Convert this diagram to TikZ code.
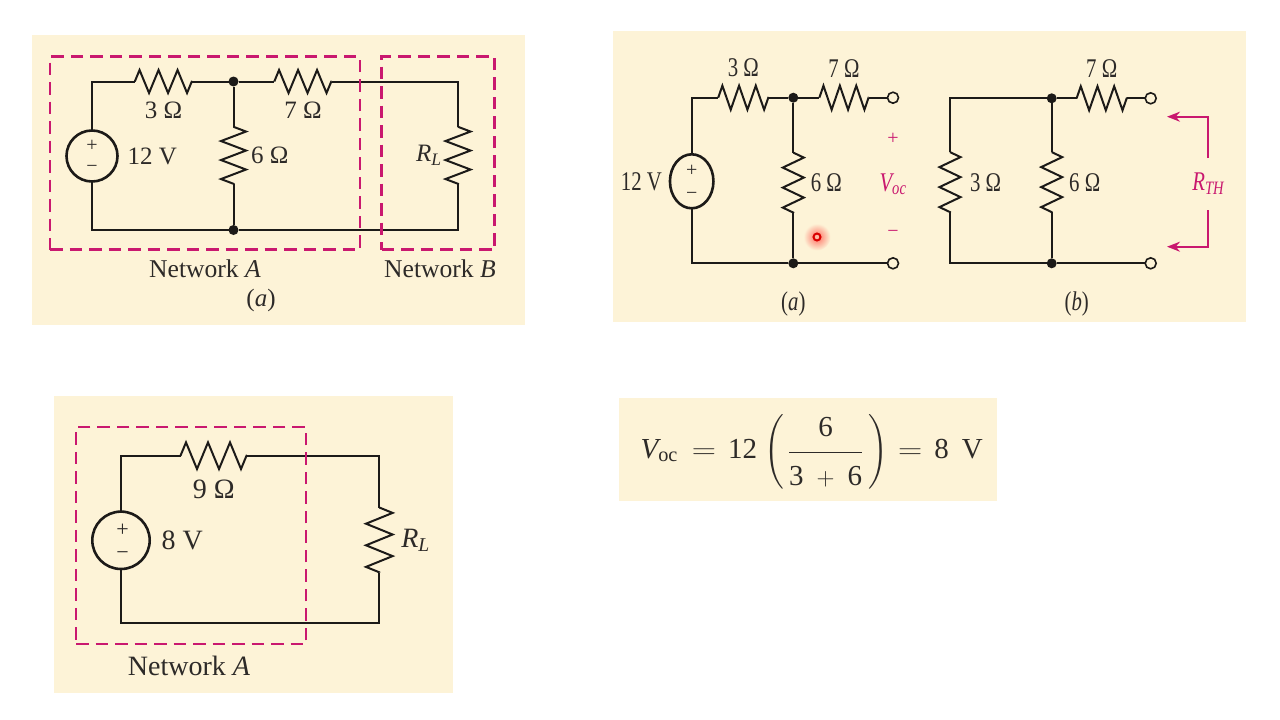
\documentclass[tikz,border=0pt]{standalone}
\usepackage{amsmath}
\usepackage{fontspec}
\setmainfont{Liberation Serif}
\newfontfamily\narrowserif{Liberation Serif}[FakeStretch=0.77]
\usetikzlibrary{positioning, arrows.meta, calc, shapes.geometric, decorations.pathmorphing}
\definecolor{panelcream}{RGB}{253, 243, 215}
\definecolor{netpink}{RGB}{201, 24, 111}
\definecolor{wireblack}{RGB}{28, 26, 24}
\definecolor{labelgray}{RGB}{45, 42, 40}
\newcommand{\wideeq}{{\scalebox{1.35}[1.1]{$=$}}}
\tikzset{
    panel/.style={rectangle, fill=panelcream, inner sep=0pt, outer sep=0pt},
    wire/.style={draw=wireblack, line width=2pt},
    netbox/.style={rectangle, draw=netpink, line width=2.2pt, dash pattern=on 12.5pt off 7pt, inner sep=0pt, outer sep=0pt},
    res/.style={rectangle, inner sep=0pt, outer sep=0pt},
    zig/.style 2 args={wire, line join=miter, decorate, decoration={zigzag, segment length=#1, amplitude=#2}},
    junct/.style={circle, fill=wireblack, inner sep=0pt, outer sep=0pt, minimum size=10pt},
    term/.style={circle, draw=wireblack, fill=panelcream, line width=1.6pt, inner sep=0pt, outer sep=0pt, minimum size=11pt},
    source/.style={circle, draw=wireblack, line width=2.6pt, inner sep=0pt, outer sep=0pt},
    sourceoval/.style={ellipse, draw=wireblack, line width=2.6pt, inner sep=0pt, outer sep=0pt, minimum width=43.5pt, minimum height=54pt},
    lab/.style={text=labelgray, inner sep=0pt, outer sep=0pt, font=\fontsize{25}{28}\selectfont},
    netname/.style={text=labelgray, inner sep=0pt, outer sep=0pt, font=\fontsize{25.6}{28}\selectfont},
    labn/.style={text=labelgray, inner sep=0pt, outer sep=0pt, font=\fontsize{27}{30}\narrowserif},
    labl/.style={text=labelgray, inner sep=0pt, outer sep=0pt, font=\fontsize{28}{32}\selectfont},
    labeq/.style={text=labelgray, inner sep=0pt, outer sep=0pt, font=\fontsize{29}{32}\selectfont},
    sign/.style={text=labelgray, inner sep=0pt, outer sep=0pt, font=\fontsize{20}{22}\selectfont},
    pinklab/.style={text=netpink, inner sep=0pt, outer sep=0pt, font=\fontsize{27}{30}\narrowserif},
    pinkarrow/.style={draw=netpink, line width=1.9pt, -{Stealth[length=13pt, width=10pt]}}
}
\begin{document}
\begin{tikzpicture}[x=1pt, y=-1pt]
    \useasboundingbox (0,0) rectangle (1280,720);
    \fill[white] (0,0) rectangle (1280,720);

    \node[panel, minimum width=493pt, minimum height=290pt] (pnlA) at (278.5,180) {};
    \node[panel, minimum width=633pt, minimum height=291pt] (pnlB) at (929.5,176.5) {};
    \node[panel, minimum width=399pt, minimum height=297pt] (pnlC) at (253.5,544.5) {};
    \node[panel, minimum width=378pt, minimum height=103pt] (pnlD) at (808,449.5) {};

    \node[source, minimum size=51pt] (srcA) at (92,156) {};
    \node[res, minimum width=57.4pt, minimum height=23pt] (r3A) at (163.5,81.5) {};
    \node[junct] (jtA) at (233.5,81.5) {};
    \node[res, minimum width=57.4pt, minimum height=23pt] (r7A) at (303,81.5) {};
    \node[res, minimum width=25pt, minimum height=57.4pt] (r6A) at (233.5,155.5) {};
    \node[res, minimum width=25pt, minimum height=57.4pt] (rlA) at (458,155.5) {};
    \node[junct] (jbA) at (233.5,230) {};
    \draw[wire] (srcA) |- (r3A);
    \draw[wire] (r3A) -- (jtA);
    \draw[wire] (jtA) -- (r7A);
    \draw[wire] (jtA) -- (r6A);
    \draw[wire] (r6A) -- (jbA);
    \draw[wire] (r7A) -| (rlA);
    \draw[wire] (rlA) |- (jbA);
    \draw[wire] (srcA) |- (jbA);
    \foreach \r in {r3A, r7A} \draw[zig={19}{11.5}] (\r.west) -- (\r.east);
    \foreach \r in {r6A, rlA} \draw[zig={19}{12.5}] (\r.north) -- (\r.south);
    \node[sign] (plusA) at (92,146) {+};
    \node[sign] (minusA) at (92,169) {−};
    \node[lab, below=9pt of r3A] (v3A) {3 Ω};
    \node[lab, below=9pt of r7A] (v7A) {7 Ω};
    \node[lab, right=10pt of srcA] (v12A) {12 V};
    \node[lab, right=5pt of r6A] (v6A) {6 Ω};
    \node[lab, left=4pt of rlA] (vlA) {$\textit{R}_{\textit{L}}$};
    \node[netbox, minimum width=310pt, minimum height=193pt] (netA) at (205,153) {};
    \node[netbox, minimum width=113pt, minimum height=193pt] (netB) at (438,153) {};
    \node[netname, below=10.5pt of netA] (nameA) {Network \textit{A}};
    \node[netname, below=10.5pt of netB, xshift=2pt] (nameB) {Network \textit{B}};
    \node[lab] (capA) at (261,300) {(\textit{a})};

    \node[sourceoval] (srcB) at (691.7,181.3) {};
    \node[res, minimum width=50.2pt, minimum height=24pt] (r3B) at (743.3,97.7) {};
    \node[junct] (jtB) at (793.3,97.7) {};
    \node[res, minimum width=49.3pt, minimum height=24pt] (r7B) at (844,97.7) {};
    \node[term] (taB) at (893,97.7) {};
    \node[res, minimum width=21pt, minimum height=60.2pt] (r6B) at (793.3,182.7) {};
    \node[junct] (jbB) at (793.3,263.3) {};
    \node[term] (tbB) at (893,263.3) {};
    \draw[wire] (srcB) |- (r3B);
    \draw[wire] (r3B) -- (jtB);
    \draw[wire] (jtB) -- (r7B);
    \draw[wire] (r7B) -- (taB);
    \draw[wire] (jtB) -- (r6B);
    \draw[wire] (r6B) -- (jbB);
    \draw[wire] (srcB) |- (jbB);
    \draw[wire] (jbB) -- (tbB);
    \foreach \r/\s in {r3B/16.7, r7B/16.4} \draw[zig={\s}{12}] (\r.west) -- (\r.east);
    \draw[zig={20}{10.5}] (r6B.north) -- (r6B.south);
    \node[sign] (plusB) at (691.7,171) {+};
    \node[sign] (minusB) at (691.7,196) {−};
    \node[labn, above=8.7pt of r3B] (v3B) {3 Ω};
    \node[labn, above=8.7pt of r7B] (v7B) {7 Ω};
    \node[labn, left=8pt of srcB] (v12B) {12 V};
    \node[labn, right=7pt of r6B] (v6B) {6 Ω};
    \node[sign, text=netpink, below=30pt of taB] (plusV) {+};
    \node[sign, text=netpink, above=20pt of tbB] (minusV) {−};
    \node[pinklab, below=29pt of plusV] (voc) {$\textit{V}_{\textit{oc}}$};
    \node[labn, below=23pt of jbB] (capB) {(\textit{a})};
    \node[circle, inner sep=0pt, minimum size=27pt, shade, inner color=red!55!panelcream, outer color=panelcream] (glow) at (817,237) {};
    \node[circle, draw=red!85!black, fill=red!25!panelcream, line width=2pt, inner sep=0pt, minimum size=7pt] (dot) at (glow) {};

    \node[res, minimum width=21pt, minimum height=60.2pt] (r3C) at (950,182.2) {};
    \node[junct] (jtC) at (1051.7,98.3) {};
    \node[res, minimum width=50.2pt, minimum height=24pt] (r7C) at (1101.7,98.3) {};
    \node[term] (taC) at (1150.7,98.3) {};
    \node[res, minimum width=21pt, minimum height=60.2pt] (r6C) at (1051.7,182.2) {};
    \node[junct] (jbC) at (1051.7,263.3) {};
    \node[term] (tbC) at (1150.7,263.3) {};
    \draw[wire] (r3C) |- (jtC);
    \draw[wire] (jtC) -- (r7C);
    \draw[wire] (r7C) -- (taC);
    \draw[wire] (jtC) -- (r6C);
    \draw[wire] (r6C) -- (jbC);
    \draw[wire] (r3C) |- (jbC);
    \draw[wire] (jbC) -- (tbC);
    \draw[zig={16.7}{12}] (r7C.west) -- (r7C.east);
    \foreach \r in {r3C, r6C} \draw[zig={20}{10.5}] (\r.north) -- (\r.south);
    \node[labn, above=9pt of r7C] (v7C) {7 Ω};
    \node[labn, right=9.5pt of r3C] (v3C) {3 Ω};
    \node[labn, right=7pt of r6C] (v6C) {6 Ω};
    \node[labn, below=23pt of jbC, xshift=25pt] (capC) {(\textit{b})};
    \node[pinklab, minimum height=52pt] (rth) at (1208.3,184) {\raisebox{-10pt}{$\textit{R}_{\textit{TH}}$}};
    \coordinate (tipT) at (1167,116.7);
    \coordinate (tipB) at (1167,246.7);
    \draw[pinkarrow] (rth.north) |- (tipT);
    \draw[pinkarrow] (rth.south) |- (tipB);

    \node[source, minimum size=57.4pt] (srcE) at (121,540.3) {};
    \node[res, minimum width=66.4pt, minimum height=26pt] (r9E) at (213.7,455.7) {};
    \node[res, minimum width=26pt, minimum height=65pt] (rlE) at (379.3,540) {};
    \coordinate (cbE) at (379.3,623.3);
    \draw[wire] (srcE) |- (r9E);
    \draw[wire] (r9E) -| (rlE);
    \draw[wire] (rlE) |- (srcE |- cbE) -- (srcE);
    \draw[zig={22}{13.3}] (r9E.west) -- (r9E.east);
    \draw[zig={21.6}{13.3}] (rlE.north) -- (rlE.south);
    \node[sign, font=\fontsize{22}{24}\selectfont] (plusE) at (122.7,530) {+};
    \node[sign, font=\fontsize{22}{24}\selectfont] (minusE) at (122.7,556) {−};
    \node[labl, below=11pt of r9E] (v9E) {9 Ω};
    \node[labl, right=12pt of srcE] (v8E) {8 V};
    \node[labl, right=9pt of rlE] (vlE) {$\textit{R}_{\textit{L}}$};
    \node[netbox, minimum width=230pt, minimum height=217.3pt] (netE) at (191,535.7) {};
    \node[labl, below=12pt of netE, xshift=-2pt] (nameE) {Network \textit{A}};

    \node[labeq] (eqn) at (811.7,452) {$\displaystyle \textit{V}_{\textrm{oc}}\hspace{14pt}\wideeq\hspace{12pt}\textrm{12}\hspace{3pt}\left(\hspace{4pt}\frac{\rule[-12pt]{0pt}{1pt}\textrm{6}}{\rule{0pt}{30pt}\textrm{3}\hspace{13pt}{+}\hspace{13pt}\textrm{6}}\hspace{5pt}\right)\hspace{6pt}\wideeq\hspace{12pt}\textrm{8}\hspace{13pt}\textrm{V}$};
\end{tikzpicture}
\end{document}
